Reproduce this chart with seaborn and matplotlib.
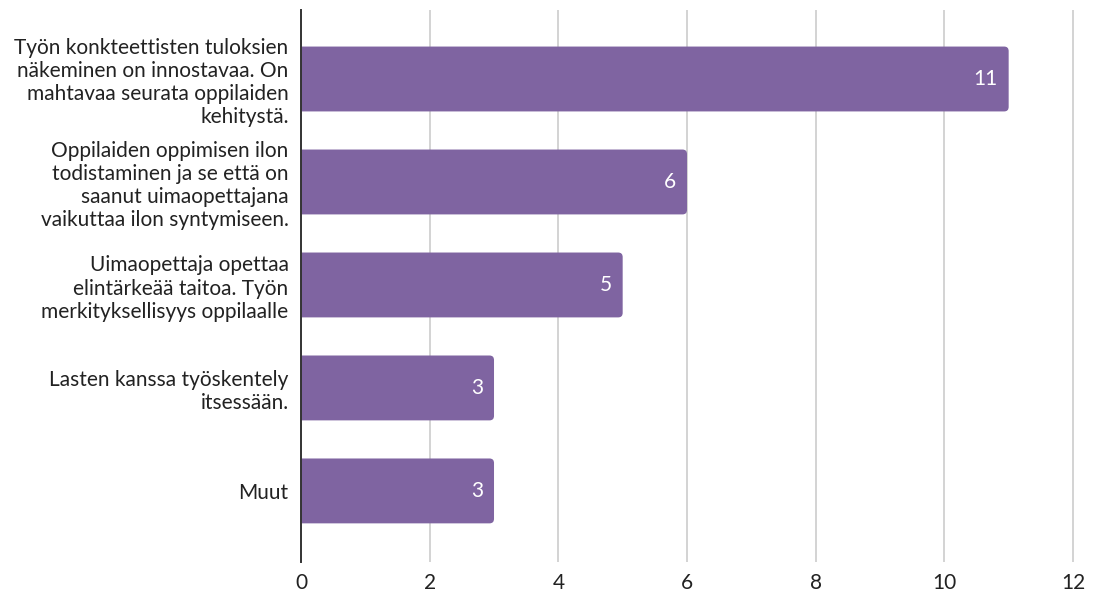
import matplotlib
matplotlib.use("Agg")
import matplotlib.pyplot as plt
from matplotlib.patches import FancyBboxPatch
import seaborn as sns
import pandas as pd

# --------------------------------------------------------------
# Data
# --------------------------------------------------------------
categories = [
    "Työn konkteettisten tuloksien\nnäkeminen on innostavaa. On\nmahtavaa seurata oppilaiden\nkehitystä.",
    "Oppilaiden oppimisen ilon\ntodistaminen ja se että on\nsaanut uimaopettajana\nvaikuttaa ilon syntymiseen.",
    "Uimaopettaja opettaa\nelintärkeää taitoa. Työn\nmerkityksellisyys oppilaalle",
    "Lasten kanssa työskentely\nitsessään.",
    "Muut",
]
counts = [11, 6, 5, 3, 3]
x_ticks = [0, 2, 4, 6, 8, 10, 12]

df = pd.DataFrame({"category": categories, "count": counts})

# --------------------------------------------------------------
# Plot
# --------------------------------------------------------------
sns.set_style("white")
plt.rcParams["font.family"] = ["Lato", "DejaVu Sans"]

fig = plt.figure(figsize=(10.97, 5.95), dpi=100)
ax = fig.add_axes([0.2744, 0.0555, 0.7046, 0.9277])

sns.barplot(
    data=df,
    x="count",
    y="category",
    color="#7F64A1",
    saturation=1,
    width=0.63,
    ax=ax,
)

ax.set_xlim(0, 12.015)
ax.set_ylim(4.69, -0.67)

# swap the square bars for ones with slightly rounded right corners
# (left side starts past the axis so the spine hides the rounding there)
for bar in list(ax.patches):
    x0, y0 = bar.get_x(), bar.get_y()
    w, h = bar.get_width(), bar.get_height()
    rounded = FancyBboxPatch(
        (x0 - 0.15, y0), w + 0.15, h,
        boxstyle="round,pad=0,rounding_size=0.07",
        mutation_aspect=0.63,
        facecolor=bar.get_facecolor(), edgecolor="none",
    )
    bar.remove()
    ax.add_patch(rounded)

# value labels inside bars
for i, v in enumerate(counts):
    ax.text(v - 0.17, i, str(v), ha="right", va="center",
            color="white", fontsize=15)

ax.set_xticks(x_ticks)
ax.xaxis.grid(True, color="#CCCCCC", linewidth=1.2)
ax.set_axisbelow(True)
ax.set_xlabel("")
ax.set_ylabel("")

for side in ["top", "right", "bottom"]:
    ax.spines[side].set_visible(False)
ax.spines["left"].set_color("#333333")
ax.spines["left"].set_linewidth(1.4)
ax.spines["left"].set_zorder(5)

ax.tick_params(axis="both", length=0, labelsize=15, colors="#222222")
ax.tick_params(axis="y", pad=9)
ax.tick_params(axis="x", pad=8)
for lab in ax.get_yticklabels():
    lab.set_multialignment("right")

plt.savefig("out.png", dpi=100)
